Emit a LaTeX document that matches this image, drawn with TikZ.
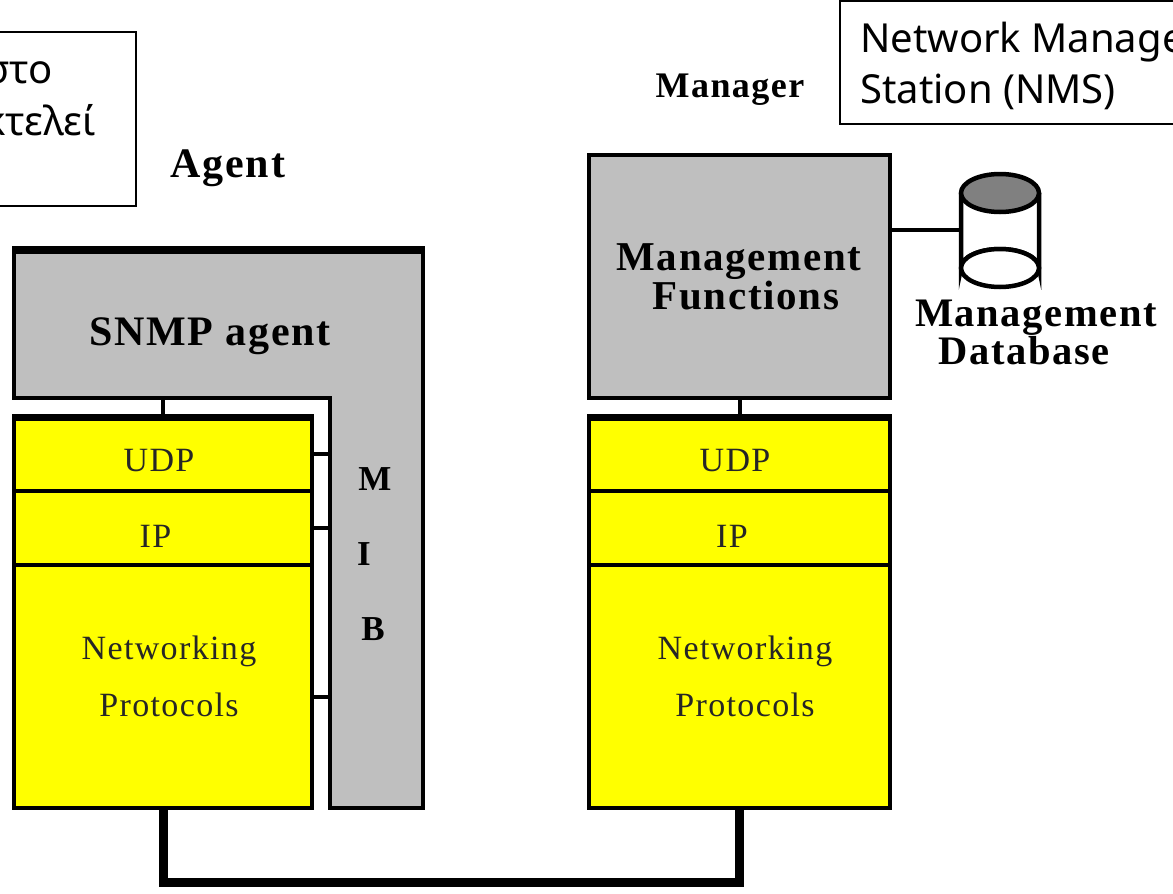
\documentclass[tikz,border=0pt]{standalone}
\usepackage{fontspec}
\usetikzlibrary{shapes.geometric}
\setmainfont{Liberation Serif}
\newfontfamily\boxfont{Noto Sans}
\newfontfamily\labfont[LetterSpace=4]{Liberation Serif}
\newcommand{\labbold}{\labfont\bfseries}
\definecolor{pureyellow}{RGB}{255,255,0}
\definecolor{midgrey}{RGB}{191,191,191}
\definecolor{dbgrey}{RGB}{128,128,128}
\begin{document}
\begin{tikzpicture}[x=1pt,y=-1pt,
  callout/.style={draw=black,line width=2pt,fill=white,rectangle,inner sep=0pt,outer sep=0pt},
  calltext/.style={font=\boxfont\fontsize{40}{40}\selectfont,inner sep=0pt,anchor=base west},
  yellowbox/.style={draw=black,line width=4pt,fill=pureyellow,rectangle,inner sep=0pt,outer sep=0pt,minimum width=298pt,anchor=north west},
  greybox/.style={draw=black,line width=4pt,fill=midgrey,rectangle,inner sep=0pt,outer sep=0pt},
  link/.style={draw=black,line width=4pt},
  thinlabel/.style={font=\labfont\fontsize{34}{34}\selectfont,inner sep=0pt,text=black!85},
  boldlabel/.style={font=\labbold\fontsize{42}{42}\selectfont,inner sep=0pt,align=center},
]
\clip (0,0) rectangle (1173,894);
\fill[white] (0,0) rectangle (1173,894);
% callouts
\node[callout,minimum width=160pt,minimum height=174pt,anchor=north east] (agentnote) at (136,32) {};
\node[callout,minimum width=360pt,minimum height=123pt,anchor=south west] (nmsnote) at (840,124) {};
\node[calltext,anchor=base east] (n1) at (53,83) {στο};
\node[calltext,anchor=base east] (n2) at (96,135) {κτελεί};
\node[calltext] (n3) at (860,52) {Network Manage};
\node[calltext] (n4) at (860,103) {Station (NMS)};
% titles
\node[boldlabel] (agentlab) at (228,168) {Agent};
\node[boldlabel,font=\labbold\fontsize{36}{36}\selectfont] (managerlab) at (730,90) {Manager};
% SNMP agent / MIB L-shape
\draw[line width=4pt,fill=midgrey] (14,250) -- (423,250) -- (423,808) -- (330,808) -- (330,398) -- (14,398) -- cycle;
\coordinate (snmpbottom) at (163,398);
\coordinate (mibedge) at (330,398);
\coordinate (ltopl) at (12,250);
\coordinate (ltopr) at (425,250);
\draw[line width=8pt] (ltopl) -- (ltopr);
\node[boldlabel] (snmplab) at (210,336) {SNMP agent};
\node[boldlabel,font=\labbold\fontsize{35}{35}\selectfont] (mibm) at (375,479) {M};
\node[boldlabel,font=\labbold\fontsize{35}{35}\selectfont] (mibi) at (364,554) {I};
\node[boldlabel,font=\labbold\fontsize{35}{35}\selectfont] (mibb) at (373,629) {B};
% left stack
\node[yellowbox,minimum height=73pt] (udpL) at (14,417.5) {};
\node[yellowbox,minimum height=74.5pt] (ipL) at (14,490.5) {};
\node[yellowbox,minimum height=243pt] (netL) at (14,565) {};
\node[thinlabel] at (159,461) {UDP};
\node[thinlabel] at (155.5,536) {IP};
\node[thinlabel,align=center,font=\labfont\fontsize{34}{57}\selectfont] at (169,676) {Networking\\Protocols};
\draw[line width=7pt] ([xshift=-2pt]udpL.north west) -- ([xshift=2pt]udpL.north east);
\draw[link] (snmpbottom) -- (udpL.north);
\draw[link,line width=3.5pt] (udpL.east) -- (udpL.east -| mibedge);
\draw[link,line width=3.5pt] (ipL.east) -- (ipL.east -| mibedge);
\coordinate (netport) at (312,697);
\draw[link,line width=3.5pt] (netport) -- (netport -| mibedge);
% right stack
\node[greybox,minimum width=301pt,minimum height=243pt,anchor=north west] (mgmt) at (589,155) {};
\node[boldlabel,font=\labbold\fontsize{41}{35}\selectfont] (mgmtlab) at (739,277) {Management\\\hspace*{14pt}Functions};
\node[yellowbox,minimum width=301pt,minimum height=73pt] (udpR) at (589,417.5) {};
\node[yellowbox,minimum width=301pt,minimum height=74.5pt] (ipR) at (589,490.5) {};
\node[yellowbox,minimum width=301pt,minimum height=243pt] (netR) at (589,565) {};
\node[thinlabel] at (735,461) {UDP};
\node[thinlabel] at (732,536) {IP};
\node[thinlabel,align=center,font=\labfont\fontsize{34}{57}\selectfont] at (745,676) {Networking\\Protocols};
\draw[line width=7pt] ([xshift=-2pt]udpR.north west) -- ([xshift=2pt]udpR.north east);
\draw[link] (mgmt.south) -- (udpR.north);
% network link
\draw[line width=9pt,miter limit=10] (netL.south) -- ++(0,74) -| (netR.south);
% database
\coordinate (dbtl) at (961,193);
\coordinate (dbtr) at (1039,193);
\draw[line width=4.5pt,fill=white] (dbtl) -- (961,268) arc[start angle=180,end angle=360,x radius=39,y radius=19] -- (dbtr);
\draw[line width=4.5pt,fill=white] (1000,268) ellipse[x radius=39,y radius=19];
\node[draw=black,line width=4.5pt,fill=dbgrey,ellipse,minimum width=78pt,minimum height=38pt,inner sep=0pt,outer sep=0pt] (dbtop) at (1000,193) {};
\coordinate (dbport) at (961,230);
\draw[link,line width=3.5pt] (dbport -| mgmt.east) -- (dbport);
\node[boldlabel,font=\labbold\fontsize{40.5}{38}\selectfont] (dblab) at (1036,332) {Management\\Database\hspace*{24pt}};
\end{tikzpicture}
\end{document}
